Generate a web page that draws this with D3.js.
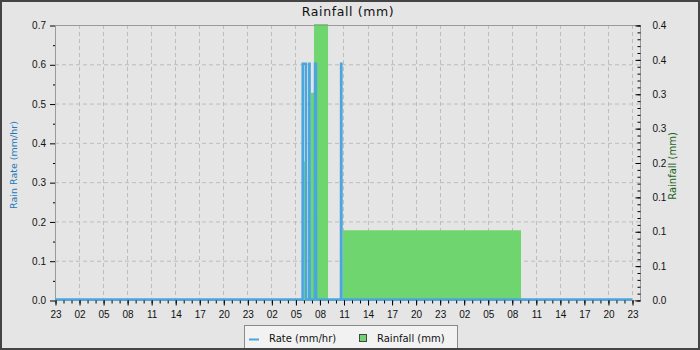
<!DOCTYPE html>
<html>
<head>
<meta charset="utf-8">
<script src="https://cdn.jsdelivr.net/npm/d3@7"></script>
<style>
    body { margin: 0; background: #e5e5e5; }
    svg { display: block; font-family: "DejaVu Sans", sans-serif; }
</style>
</head>
<body>
<div id="chart"></div>
<script>
// hours counted from 23:00 of the first day
const xTickHours = d3.range(0, 73, 3);
const xTickLabels = ["23", "02", "05", "08", "11", "14", "17", "20",
    "23", "02", "05", "08", "11", "14", "17", "20",
    "23", "02", "05", "08", "11", "14", "17", "20", "23"];

const leftTicks = [0, 0.1, 0.2, 0.3, 0.4, 0.5, 0.6, 0.7];
const leftTickLabels = ["0.0", "0.1", "0.2", "0.3", "0.4", "0.5", "0.6", "0.7"];
const rightTicks = [0, 0.05, 0.1, 0.15, 0.2, 0.25, 0.3, 0.35, 0.4];
const rightTickLabels = ["0.0", "0.1", "0.1", "0.1", "0.2", "0.3", "0.3", "0.4", "0.4"];

// rain rate (mm/hr)
const rateHours = [0, 30.90, 30.92, 31.31, 31.33, 31.72, 31.74, 31.76, 31.78,
    32.43, 32.45, 32.56, 32.58, 35.69, 35.71, 35.73, 35.75, 72];
const rateValues = [0, 0, 0.6, 0.6, 0, 0, 0.6, 0.6, 0,
    0, 0.6, 0.6, 0, 0, 0.6, 0.6, 0, 0];

// rainfall (mm) per record interval
const rainStart = [31.07, 31.94, 32.32, 35.94];
const rainEnd = [31.19, 32.32, 34.07, 58.15];
const rainValues = [0.2, 0.3, 0.4, 0.1];

const width = 700, height = 350;
const margin = { top: 25, right: 60, bottom: 50, left: 55 };
const plotRight = width - margin.right;
const plotBottom = height - margin.bottom;

const svg = d3.select("#chart").append("svg")
    .attr("width", width)
    .attr("height", height);

svg.append("rect")
    .attr("width", width).attr("height", height)
    .attr("fill", "#e5e5e5");

const x = d3.scaleLinear().domain([0, 73]).range([margin.left, plotRight]);
const yL = d3.scaleLinear().domain([0, 0.7]).range([plotBottom, margin.top]);
const yR = d3.scaleLinear().domain([0, 0.4]).range([plotBottom, margin.top]);

// grid
const grid = svg.append("g")
    .attr("stroke", "#bdbdbd")
    .attr("stroke-dasharray", "4,3");
grid.selectAll("line.h")
    .data(leftTicks.slice(1, -1))
    .join("line")
    .attr("x1", margin.left).attr("x2", plotRight)
    .attr("y1", d => yL(d) + 0.5).attr("y2", d => yL(d) + 0.5);
grid.selectAll("line.v")
    .data(xTickHours.slice(1))
    .join("line")
    .attr("x1", d => Math.round(x(d)) + 0.5).attr("x2", d => Math.round(x(d)) + 0.5)
    .attr("y1", margin.top).attr("y2", plotBottom);

// rainfall bars
const rain = rainValues.map((v, i) => ({ start: rainStart[i], end: rainEnd[i], value: v }));
svg.append("g")
    .selectAll("rect")
    .data(rain)
    .join("rect")
    .attr("x", d => x(d.start))
    .attr("width", d => x(d.end) - x(d.start))
    .attr("y", d => yR(d.value) - 1)
    .attr("height", d => plotBottom - yR(d.value) + 1)
    .attr("fill", "#6fd66f");

// frame
svg.append("rect")
    .attr("x", margin.left + 0.5).attr("y", margin.top + 0.5)
    .attr("width", plotRight - margin.left).attr("height", plotBottom - margin.top)
    .attr("fill", "none")
    .attr("stroke", "#9a9a9a");

// rain rate line
const rate = rateValues.map((v, i) => ({ h: rateHours[i], v: v }));
svg.append("path")
    .datum(rate)
    .attr("fill", "none")
    .attr("stroke", "#4aa6de")
    .attr("stroke-width", 2.6)
    .attr("d", d3.line().x(d => x(d.h)).y(d => yL(d.v) - 0.5));

// axes
function styleAxis(g) {
    g.select(".domain").remove();
    g.selectAll(".tick line").attr("stroke", "#000");
    g.selectAll(".tick text").attr("fill", "#111").attr("font-size", 10);
}

svg.append("g")
    .attr("transform", `translate(${margin.left},0.5)`)
    .call(d3.axisLeft(yL).tickValues(d3.range(0.05, 0.7, 0.1)).tickSize(2).tickFormat(""))
    .call(styleAxis);
svg.append("g")
    .attr("transform", `translate(${margin.left},0.5)`)
    .call(d3.axisLeft(yL).tickValues(leftTicks).tickSize(5).tickPadding(4)
        .tickFormat((d, i) => leftTickLabels[i]))
    .call(styleAxis);

svg.append("g")
    .attr("transform", `translate(${plotRight + 0.5},0.5)`)
    .call(d3.axisRight(yR).tickValues(d3.range(0, 0.401, 0.01)).tickSize(-3).tickFormat(""))
    .call(styleAxis);
svg.append("g")
    .attr("transform", `translate(${plotRight + 0.5},0.5)`)
    .call(d3.axisRight(yR).tickValues(rightTicks).tickSize(-5).tickPadding(12)
        .tickFormat((d, i) => rightTickLabels[i]))
    .call(styleAxis);

svg.append("g")
    .attr("transform", `translate(0.5,${plotBottom + 0.5})`)
    .call(d3.axisBottom(x).tickValues(d3.range(0, 73, 1)).tickSize(3).tickFormat(""))
    .call(styleAxis);
svg.append("g")
    .attr("transform", `translate(0.5,${plotBottom + 0.5})`)
    .call(d3.axisBottom(x).tickValues(xTickHours).tickSize(5).tickPadding(5)
        .tickFormat((d, i) => xTickLabels[i]))
    .call(styleAxis);

// titles
svg.append("text")
    .attr("x", 348).attr("y", 16)
    .attr("text-anchor", "middle")
    .attr("font-size", 12.5)
    .attr("letter-spacing", 0.6)
    .attr("fill", "#111")
    .text("Rainfall (mm)");

svg.append("text")
    .attr("transform", "translate(17,165) rotate(-90)")
    .attr("text-anchor", "middle")
    .attr("font-size", 9.5)
    .attr("fill", "#2277bb")
    .text("Rain Rate (mm/hr)");

svg.append("text")
    .attr("transform", "translate(676,166) rotate(-90)")
    .attr("text-anchor", "middle")
    .attr("font-size", 10)
    .attr("fill", "#1a661a")
    .text("Rainfall (mm)");

// legend
const legend = svg.append("g");
legend.append("rect")
    .attr("x", 244.5).attr("y", 325.5)
    .attr("width", 213).attr("height", 23)
    .attr("fill", "#f2f2f2")
    .attr("stroke", "#8a8a8a");
legend.append("line")
    .attr("x1", 249).attr("x2", 259)
    .attr("y1", 339.5).attr("y2", 339.5)
    .attr("stroke", "#4aa6de").attr("stroke-width", 2);
legend.append("text")
    .attr("x", 269).attr("y", 342)
    .attr("font-size", 10).attr("fill", "#111")
    .text("Rate (mm/hr)");
legend.append("rect")
    .attr("x", 359.5).attr("y", 334.5)
    .attr("width", 7).attr("height", 7)
    .attr("fill", "#6fd66f")
    .attr("stroke", "#444");
legend.append("text")
    .attr("x", 377).attr("y", 342)
    .attr("font-size", 10).attr("fill", "#111")
    .text("Rainfall (mm)");

// outer border
svg.append("rect")
    .attr("x", 1).attr("y", 1)
    .attr("width", width - 2).attr("height", height - 2)
    .attr("fill", "none")
    .attr("stroke", "#444")
    .attr("stroke-width", 2);
</script>
</body>
</html>
